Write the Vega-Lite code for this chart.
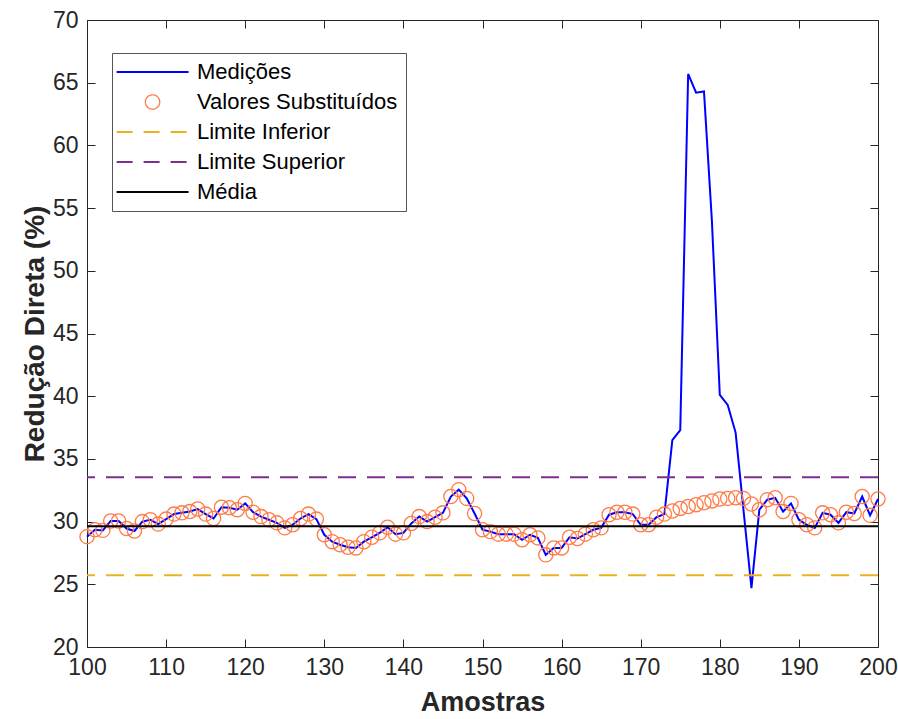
{
  "$schema": "https://vega.github.io/schema/vega-lite/v6.json",
  "width": 791,
  "height": 627,
  "autosize": {"type": "none"},
  "padding": {"left": 87, "top": 20, "right": 20, "bottom": 72},
  "background": "white",
  "config": {"view": {"stroke": "#262626", "strokeWidth": 1}, "font": "Liberation Sans"},
  "datasets": {
    "serie": [
      {"amostra": 100, "medicao": 28.8, "substituido": 28.8},
      {"amostra": 101, "medicao": 29.35, "substituido": 29.35},
      {"amostra": 102, "medicao": 29.3, "substituido": 29.3},
      {"amostra": 103, "medicao": 30.05, "substituido": 30.05},
      {"amostra": 104, "medicao": 30.05, "substituido": 30.05},
      {"amostra": 105, "medicao": 29.45, "substituido": 29.45},
      {"amostra": 106, "medicao": 29.25, "substituido": 29.25},
      {"amostra": 107, "medicao": 30.0, "substituido": 30.0},
      {"amostra": 108, "medicao": 30.15, "substituido": 30.15},
      {"amostra": 109, "medicao": 29.8, "substituido": 29.8},
      {"amostra": 110, "medicao": 30.2, "substituido": 30.2},
      {"amostra": 111, "medicao": 30.6, "substituido": 30.6},
      {"amostra": 112, "medicao": 30.7, "substituido": 30.7},
      {"amostra": 113, "medicao": 30.8, "substituido": 30.8},
      {"amostra": 114, "medicao": 31.0, "substituido": 31.0},
      {"amostra": 115, "medicao": 30.6, "substituido": 30.6},
      {"amostra": 116, "medicao": 30.25, "substituido": 30.25},
      {"amostra": 117, "medicao": 31.15, "substituido": 31.15},
      {"amostra": 118, "medicao": 31.1, "substituido": 31.1},
      {"amostra": 119, "medicao": 30.95, "substituido": 30.95},
      {"amostra": 120, "medicao": 31.45, "substituido": 31.45},
      {"amostra": 121, "medicao": 30.75, "substituido": 30.75},
      {"amostra": 122, "medicao": 30.4, "substituido": 30.4},
      {"amostra": 123, "medicao": 30.15, "substituido": 30.15},
      {"amostra": 124, "medicao": 29.9, "substituido": 29.9},
      {"amostra": 125, "medicao": 29.5, "substituido": 29.5},
      {"amostra": 126, "medicao": 29.75, "substituido": 29.75},
      {"amostra": 127, "medicao": 30.25, "substituido": 30.25},
      {"amostra": 128, "medicao": 30.6, "substituido": 30.6},
      {"amostra": 129, "medicao": 30.2, "substituido": 30.2},
      {"amostra": 130, "medicao": 28.95, "substituido": 28.95},
      {"amostra": 131, "medicao": 28.4, "substituido": 28.4},
      {"amostra": 132, "medicao": 28.15, "substituido": 28.15},
      {"amostra": 133, "medicao": 27.95, "substituido": 27.95},
      {"amostra": 134, "medicao": 27.9, "substituido": 27.9},
      {"amostra": 135, "medicao": 28.4, "substituido": 28.4},
      {"amostra": 136, "medicao": 28.75, "substituido": 28.75},
      {"amostra": 137, "medicao": 29.1, "substituido": 29.1},
      {"amostra": 138, "medicao": 29.55, "substituido": 29.55},
      {"amostra": 139, "medicao": 29.0, "substituido": 29.0},
      {"amostra": 140, "medicao": 29.1, "substituido": 29.1},
      {"amostra": 141, "medicao": 29.85, "substituido": 29.85},
      {"amostra": 142, "medicao": 30.4, "substituido": 30.4},
      {"amostra": 143, "medicao": 30.0, "substituido": 30.0},
      {"amostra": 144, "medicao": 30.35, "substituido": 30.35},
      {"amostra": 145, "medicao": 30.7, "substituido": 30.7},
      {"amostra": 146, "medicao": 32.0, "substituido": 32.0},
      {"amostra": 147, "medicao": 32.55, "substituido": 32.55},
      {"amostra": 148, "medicao": 31.85, "substituido": 31.85},
      {"amostra": 149, "medicao": 30.65, "substituido": 30.65},
      {"amostra": 150, "medicao": 29.35, "substituido": 29.35},
      {"amostra": 151, "medicao": 29.2, "substituido": 29.2},
      {"amostra": 152, "medicao": 29.0, "substituido": 29.0},
      {"amostra": 153, "medicao": 29.0, "substituido": 29.0},
      {"amostra": 154, "medicao": 29.0, "substituido": 29.0},
      {"amostra": 155, "medicao": 28.55, "substituido": 28.55},
      {"amostra": 156, "medicao": 28.95, "substituido": 28.95},
      {"amostra": 157, "medicao": 28.7, "substituido": 28.7},
      {"amostra": 158, "medicao": 27.35, "substituido": 27.35},
      {"amostra": 159, "medicao": 27.9, "substituido": 27.9},
      {"amostra": 160, "medicao": 27.9, "substituido": 27.9},
      {"amostra": 161, "medicao": 28.75, "substituido": 28.75},
      {"amostra": 162, "medicao": 28.65, "substituido": 28.65},
      {"amostra": 163, "medicao": 29.0, "substituido": 29.0},
      {"amostra": 164, "medicao": 29.35, "substituido": 29.35},
      {"amostra": 165, "medicao": 29.5, "substituido": 29.5},
      {"amostra": 166, "medicao": 30.55, "substituido": 30.55},
      {"amostra": 167, "medicao": 30.75, "substituido": 30.75},
      {"amostra": 168, "medicao": 30.75, "substituido": 30.75},
      {"amostra": 169, "medicao": 30.6, "substituido": 30.6},
      {"amostra": 170, "medicao": 29.75, "substituido": 29.75},
      {"amostra": 171, "medicao": 29.75, "substituido": 29.75},
      {"amostra": 172, "medicao": 30.35, "substituido": 30.35},
      {"amostra": 173, "medicao": 30.6, "substituido": 30.6},
      {"amostra": 174, "medicao": 36.5, "substituido": 30.85},
      {"amostra": 175, "medicao": 37.3, "substituido": 31.05},
      {"amostra": 176, "medicao": 65.7, "substituido": 31.2},
      {"amostra": 177, "medicao": 64.2, "substituido": 31.35},
      {"amostra": 178, "medicao": 64.3, "substituido": 31.5},
      {"amostra": 179, "medicao": 54.0, "substituido": 31.65},
      {"amostra": 180, "medicao": 40.1, "substituido": 31.8},
      {"amostra": 181, "medicao": 39.3, "substituido": 31.85},
      {"amostra": 182, "medicao": 37.1, "substituido": 31.9},
      {"amostra": 183, "medicao": 30.9, "substituido": 31.85},
      {"amostra": 184, "medicao": 24.7, "substituido": 31.4},
      {"amostra": 185, "medicao": 30.95, "substituido": 30.95},
      {"amostra": 186, "medicao": 31.75, "substituido": 31.75},
      {"amostra": 187, "medicao": 31.9, "substituido": 31.9},
      {"amostra": 188, "medicao": 30.8, "substituido": 30.8},
      {"amostra": 189, "medicao": 31.45, "substituido": 31.45},
      {"amostra": 190, "medicao": 30.15, "substituido": 30.15},
      {"amostra": 191, "medicao": 29.75, "substituido": 29.75},
      {"amostra": 192, "medicao": 29.5, "substituido": 29.5},
      {"amostra": 193, "medicao": 30.7, "substituido": 30.7},
      {"amostra": 194, "medicao": 30.55, "substituido": 30.55},
      {"amostra": 195, "medicao": 29.9, "substituido": 29.9},
      {"amostra": 196, "medicao": 30.75, "substituido": 30.75},
      {"amostra": 197, "medicao": 30.65, "substituido": 30.65},
      {"amostra": 198, "medicao": 32.0, "substituido": 32.0},
      {"amostra": 199, "medicao": 30.5, "substituido": 30.5},
      {"amostra": 200, "medicao": 31.8, "substituido": 31.8}
    ],
    "limites": [
      {"serie": "Limite Inferior", "valor": 25.73},
      {"serie": "Limite Superior", "valor": 33.53},
      {"serie": "Média", "valor": 29.63}
    ]
  },
  "resolve": {"axis": {"x": "independent", "y": "independent"}},
  "layer": [
    {
      "data": {"name": "serie"},
      "mark": {"type": "line", "strokeWidth": 2},
      "encoding": {
        "x": {
          "field": "amostra", "type": "quantitative",
          "scale": {"domain": [100, 200], "nice": false, "zero": false},
          "axis": {
            "orient": "bottom", "values": [100, 110, 120, 130, 140, 150, 160, 170, 180, 190, 200],
            "tickSize": -8, "labelPadding": 17, "domain": false, "grid": false, "labelFlush": false,
            "title": "Amostras", "titleFontSize": 27, "titleFontWeight": "bold", "titleColor": "#262626",
            "labelFontSize": 23, "labelColor": "#262626", "tickColor": "#262626", "titlePadding": 10,
            "labelFont": "Liberation Sans", "titleFont": "Liberation Sans"
          }
        },
        "y": {
          "field": "medicao", "type": "quantitative",
          "scale": {"domain": [20, 70], "nice": false, "zero": false},
          "axis": {
            "orient": "left", "values": [20, 25, 30, 35, 40, 45, 50, 55, 60, 65, 70],
            "tickSize": -8, "labelPadding": 17, "domain": false, "grid": false, "labelFlush": false,
            "title": "Redução Direta (%)", "titleFontSize": 28, "titleFontWeight": "bold", "titleColor": "#262626",
            "labelFontSize": 23, "labelColor": "#262626", "tickColor": "#262626", "titlePadding": 3,
            "labelFont": "Liberation Sans", "titleFont": "Liberation Sans"
          }
        },
        "color": {
          "datum": "Medições",
          "title": null,
          "scale": {
            "domain": ["Medições", "Valores Substituídos", "Limite Inferior", "Limite Superior", "Média"],
            "range": ["#0000FF", "#FF7B47", "#EDB120", "#7E2F8E", "#000000"]
          },
          "legend": {
            "title": null, "orient": "none", "legendX": 25, "legendY": 33, "direction": "vertical",
            "symbolType": "M-2,0H8", "symbolSize": 207, "symbolStrokeWidth": 2,
            "labelFontSize": 22, "labelFont": "Liberation Sans", "labelColor": "#000000",
            "labelOffset": 55, "rowPadding": 8, "padding": 8, "labelLimit": 400,
            "strokeColor": "#555555", "fillColor": "#FFFFFF", "cornerRadius": 0,
            "encode": {
              "symbols": {
                "update": {
                  "shape": {"signal": "datum.value === 'Valores Substituídos' ? 'M4,0A1,1,0,1,1,2,0A1,1,0,1,1,4,0' : 'M-2,0H8'"},
                  "strokeDash": {"signal": "(datum.value === 'Limite Inferior' || datum.value === 'Limite Superior') ? [16,11] : [1,0]"},
                  "strokeWidth": {"signal": "datum.value === 'Valores Substituídos' ? 1.3 : 2"},
                  "fill": {"value": "transparent"},
                  "stroke": {"scale": "color", "field": "value"},
                  "opacity": {"value": 1}
                }
              }
            }
          }
        }
      }
    },
    {
      "data": {"name": "serie"},
      "mark": {"type": "point", "filled": false, "size": 201, "strokeWidth": 1.3, "opacity": 1},
      "encoding": {
        "x": {
          "field": "amostra", "type": "quantitative",
          "scale": {"domain": [100, 200], "nice": false, "zero": false},
          "axis": {
            "orient": "top", "values": [100, 110, 120, 130, 140, 150, 160, 170, 180, 190, 200],
            "tickSize": -8, "labels": false, "domain": false, "grid": false, "title": null, "tickColor": "#262626"
          }
        },
        "y": {
          "field": "substituido", "type": "quantitative",
          "scale": {"domain": [20, 70], "nice": false, "zero": false},
          "axis": {
            "orient": "right", "values": [20, 25, 30, 35, 40, 45, 50, 55, 60, 65, 70],
            "tickSize": -8, "labels": false, "domain": false, "grid": false, "title": null, "tickColor": "#262626"
          }
        },
        "color": {"datum": "Valores Substituídos", "title": null}
      }
    },
    {
      "data": {"name": "limites"},
      "mark": {"type": "rule", "strokeWidth": 2},
      "encoding": {
        "y": {"field": "valor", "type": "quantitative", "axis": null},
        "color": {"field": "serie", "type": "nominal", "title": null},
        "strokeDash": {
          "field": "serie", "type": "nominal", "title": null,
          "scale": {"domain": ["Limite Inferior", "Limite Superior", "Média"], "range": [[18, 11], [18, 11], [1, 0]]},
          "legend": null
        }
      }
    }
  ]
}
